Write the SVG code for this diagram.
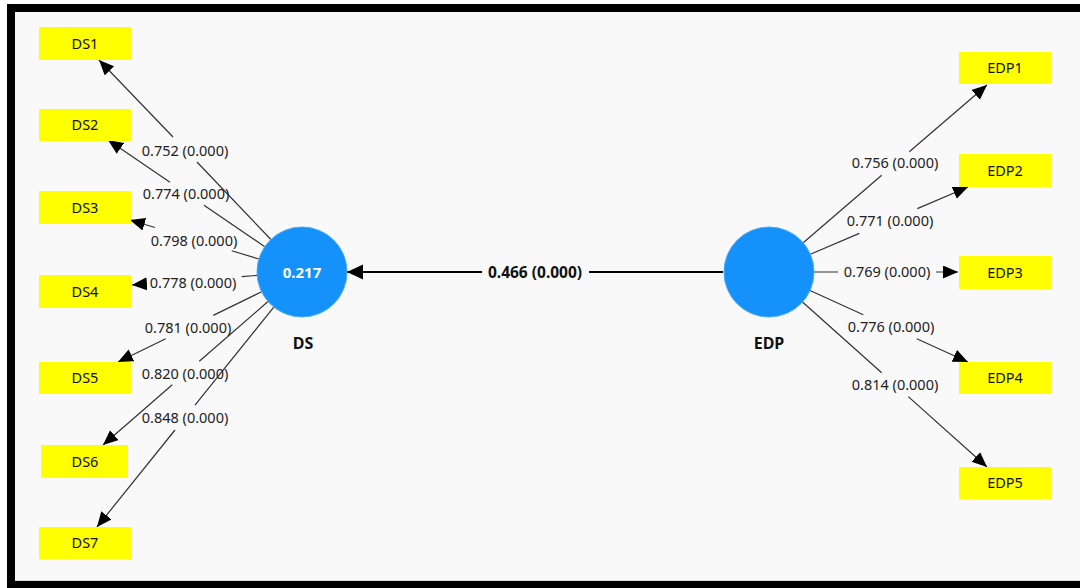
<svg xmlns="http://www.w3.org/2000/svg" width="1080" height="588" viewBox="0 0 1080 588">
<style>
.ind{fill:#ffff00}
.indt{font-family:"Noto Sans",sans-serif;font-size:14.5px;fill:#111;text-anchor:middle}
.lv{fill:#1592fa;stroke:#4aa9f7;stroke-width:1}
.lvt{font-family:"Noto Sans",sans-serif;font-size:15px;font-weight:bold;fill:#ffffff;text-anchor:middle}
.lvn{font-family:"Noto Sans",sans-serif;font-size:16px;font-weight:bold;fill:#111;text-anchor:middle}
.ln{fill:none;stroke:#333;stroke-width:1.2;marker-end:url(#ah)}
.lnm{fill:none;stroke:#000;stroke-width:2;marker-end:url(#ahb)}
.lb{font-family:"Noto Sans",sans-serif;font-size:14.5px;fill:#222;text-anchor:middle}
.lbb{font-family:"Noto Sans",sans-serif;font-size:15.5px;font-weight:bold;fill:#111;text-anchor:middle}
</style>
<defs>
<marker id="ah" markerUnits="userSpaceOnUse" markerWidth="16" markerHeight="14" refX="15" refY="6.5" orient="auto">
<path d="M0,0 L15,6.5 L0,13 z" fill="#000"/>
</marker>
<marker id="ahb" markerUnits="userSpaceOnUse" markerWidth="18" markerHeight="16" refX="16" refY="7.5" orient="auto">
<path d="M0,0 L16,7.5 L0,15 z" fill="#000"/>
</marker>
</defs>
<rect x="0" y="0" width="1080" height="588" fill="#ffffff"/>
<rect x="7" y="4" width="1073" height="584" fill="#000"/>
<rect x="15" y="12" width="1065" height="569" fill="#f9f9f9"/>
<line x1="15" y1="580.5" x2="1080" y2="580.5" stroke="#dddddd" stroke-width="1"/>

<g id="connectors">
<path class="ln" d="M270.9,239.5 L197,162 M173,137 L99,60"/>
<path class="ln" d="M264.8,246.7 L204,205.3 M170,182.2 L108,140"/>
<path class="ln" d="M258.9,259 L231.7,250.7 M155,227.5 L130,220"/>
<path class="ln" d="M257.1,275.4 L241.7,276.6 M146,283.9 L132,285"/>
<path class="ln" d="M261.6,291.8 L213.3,315.4 M165.7,338.7 L118,362"/>
<path class="ln" d="M268,301.5 L199.3,361.3 M172.3,384.8 L103,445"/>
<path class="ln" d="M273.8,307.1 L195,405.1 M175,430 L97,527"/>
<path class="ln" d="M803.2,242.7 L881.7,175.3 M909.3,151.7 L987,85"/>
<path class="ln" d="M810.4,254.3 L859.3,233.4 M917.3,208.6 L968,187"/>
<path class="ln" d="M814,272 L838,272 M936,272 L958,272"/>
<path class="ln" d="M810,290.5 L863.3,314.7 M916.7,338.8 L968,362"/>
<path class="ln" d="M802.5,302 L881.7,372.7 M908.3,396.6 L987,467"/>
<path class="lnm" d="M723,272 L589,272 M482,272 L347,272"/>
<text class="lb" x="185" y="156">0.752 (0.000)</text>
<text class="lb" x="186" y="199">0.774 (0.000)</text>
<text class="lb" x="194" y="246">0.798 (0.000)</text>
<text class="lb" x="193" y="288">0.778 (0.000)</text>
<text class="lb" x="188" y="333">0.781 (0.000)</text>
<text class="lb" x="185" y="379">0.820 (0.000)</text>
<text class="lb" x="185" y="423">0.848 (0.000)</text>
<text class="lb" x="895" y="168">0.756 (0.000)</text>
<text class="lb" x="890" y="226">0.771 (0.000)</text>
<text class="lb" x="887" y="277">0.769 (0.000)</text>
<text class="lb" x="891" y="332">0.776 (0.000)</text>
<text class="lb" x="895" y="390">0.814 (0.000)</text>
<text class="lbb" x="535" y="278">0.466 (0.000)</text>
</g>

<g id="DS">
<circle class="lv" cx="302" cy="272" r="45"/>
<text class="lvt" x="302" y="277.5">0.217</text>
<text class="lvn" x="303" y="349">DS</text>
</g>
<g id="EDP">
<circle class="lv" cx="769" cy="272" r="45"/>
<text class="lvn" x="769" y="349">EDP</text>
</g>

<g id="DS1"><rect class="ind" x="39" y="27" width="92" height="33"/><text class="indt" x="85" y="48.5">DS1</text></g>
<g id="DS2"><rect class="ind" x="39" y="109" width="92" height="32"/><text class="indt" x="85" y="130">DS2</text></g>
<g id="DS3"><rect class="ind" x="39" y="191" width="92" height="33"/><text class="indt" x="85" y="212.5">DS3</text></g>
<g id="DS4"><rect class="ind" x="39" y="275" width="92" height="33"/><text class="indt" x="85" y="296.5">DS4</text></g>
<g id="DS5"><rect class="ind" x="39" y="362" width="92" height="32"/><text class="indt" x="85" y="383">DS5</text></g>
<g id="DS6"><rect class="ind" x="41" y="445" width="87" height="33"/><text class="indt" x="85" y="466.5">DS6</text></g>
<g id="DS7"><rect class="ind" x="39" y="527" width="92" height="32"/><text class="indt" x="85" y="548">DS7</text></g>

<g id="EDP1"><rect class="ind" x="959" y="52" width="92" height="32"/><text class="indt" x="1005" y="73">EDP1</text></g>
<g id="EDP2"><rect class="ind" x="959" y="154" width="92" height="33"/><text class="indt" x="1005" y="175.5">EDP2</text></g>
<g id="EDP3"><rect class="ind" x="959" y="256" width="92" height="33"/><text class="indt" x="1005" y="277.5">EDP3</text></g>
<g id="EDP4"><rect class="ind" x="959" y="362" width="92" height="32"/><text class="indt" x="1005" y="383">EDP4</text></g>
<g id="EDP5"><rect class="ind" x="959" y="467" width="92" height="32"/><text class="indt" x="1005" y="488">EDP5</text></g>
</svg>
